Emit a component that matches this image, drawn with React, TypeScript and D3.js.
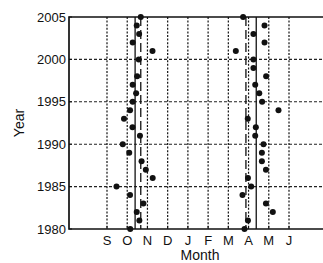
import React, { useRef, useEffect } from "react";
import * as d3 from "d3";

// years of observation
const years = [
  1980, 1981, 1982, 1983, 1984, 1985, 1986, 1987, 1988, 1989, 1990, 1991, 1992,
  1993, 1994, 1995, 1996, 1997, 1998, 1999, 2000, 2001, 2002, 2003, 2004, 2005,
];

// month position (9 = Sep ... 12 = Dec, 13 = Jan ... 18 = Jun)
const autumn = [
  10.15, 10.6, 10.47, 10.8, 10.14, 9.47, 11.26, 10.92, 10.71, 10.1, 9.78, 10.63,
  10.26, 9.84, 10.14, 10.27, 10.44, 10.27, 10.49, null, 10.57, 11.25, 10.27,
  10.59, 10.47, 10.67,
];
const spring = [
  15.8, 15.97, 17.2, 16.86, 15.7, 16.13, 15.97, 16.86, 16.66, 16.66, 16.74,
  16.33, 16.36, 15.96, 17.48, 16.67, 16.53, 16.33, 16.87, 16.24, 16.24, 15.37,
  16.79, 16.24, 16.79, 15.73,
];

// reference lines
const solidLines = [10.39, 16.38];
const dashedLines = [10.67, 15.87];

const monthTicks = [9, 10, 11, 12, 13, 14, 15, 16, 17, 18];
const monthLabels = ["S", "O", "N", "D", "J", "F", "M", "A", "M", "J"];
const yearTicks = [1980, 1985, 1990, 1995, 2000, 2005];

const App = () => {
  const ref = useRef(null);

  useEffect(() => {
    const svg = d3.select(ref.current);
    svg.selectAll("*").remove();

    const left = 69,
      top = 17,
      bottom = 229,
      right = 340;

    const x = d3.scaleLinear().domain([9, 18]).range([107, 289]);
    const y = d3.scaleLinear().domain([1980, 2005]).range([bottom, top]);

    const font = "Arial, 'Liberation Sans', Helvetica, sans-serif";

    // grid
    svg
      .append("g")
      .selectAll("line")
      .data(monthTicks)
      .enter()
      .append("line")
      .attr("x1", (d) => x(d))
      .attr("x2", (d) => x(d))
      .attr("y1", top)
      .attr("y2", bottom)
      .attr("stroke", "#111")
      .attr("stroke-width", 1.2)
      .attr("stroke-dasharray", "2,1.6");

    svg
      .append("g")
      .selectAll("line")
      .data(yearTicks.slice(1, -1))
      .enter()
      .append("line")
      .attr("x1", left)
      .attr("x2", right)
      .attr("y1", (d) => y(d))
      .attr("y2", (d) => y(d))
      .attr("stroke", "#222")
      .attr("stroke-width", 1.1)
      .attr("stroke-dasharray", "3,2");

    // reference lines
    svg
      .append("g")
      .selectAll("line")
      .data(solidLines)
      .enter()
      .append("line")
      .attr("x1", (d) => x(d))
      .attr("x2", (d) => x(d))
      .attr("y1", top)
      .attr("y2", bottom)
      .attr("stroke", "#111")
      .attr("stroke-width", 1.3);

    svg
      .append("g")
      .selectAll("line")
      .data(dashedLines)
      .enter()
      .append("line")
      .attr("x1", (d) => x(d))
      .attr("x2", (d) => x(d))
      .attr("y1", top)
      .attr("y2", bottom)
      .attr("stroke", "#111")
      .attr("stroke-width", 1.3)
      .attr("stroke-dasharray", "9,4");

    // axes frame
    svg
      .append("path")
      .attr("d", `M${right},${top}H${left}V${bottom}H${right}`)
      .attr("fill", "none")
      .attr("stroke", "#111")
      .attr("stroke-width", 1.7);

    // ticks
    svg
      .append("g")
      .selectAll("line")
      .data(monthTicks)
      .enter()
      .append("line")
      .attr("x1", (d) => x(d))
      .attr("x2", (d) => x(d))
      .attr("y1", bottom)
      .attr("y2", bottom - 3)
      .attr("stroke", "#111")
      .attr("stroke-width", 1);

    svg
      .append("g")
      .selectAll("line")
      .data(yearTicks)
      .enter()
      .append("line")
      .attr("x1", left)
      .attr("x2", left + 3)
      .attr("y1", (d) => y(d))
      .attr("y2", (d) => y(d))
      .attr("stroke", "#111")
      .attr("stroke-width", 1);

    // points
    const pts = (vals) =>
      years
        .map((yr, i) => ({ yr, m: vals[i] }))
        .filter((d) => d.m !== null);

    [autumn, spring].forEach((series) => {
      svg
        .append("g")
        .selectAll("circle")
        .data(pts(series))
        .enter()
        .append("circle")
        .attr("cx", (d) => x(d.m))
        .attr("cy", (d) => y(d.yr))
        .attr("r", 3)
        .attr("fill", "#111");
    });

    // tick labels
    svg
      .append("g")
      .selectAll("text")
      .data(monthTicks)
      .enter()
      .append("text")
      .attr("x", (d) => x(d))
      .attr("y", 245)
      .attr("text-anchor", "middle")
      .style("font-family", font)
      .style("font-size", "13px")
      .attr("fill", "#111")
      .text((d, i) => monthLabels[i]);

    svg
      .append("g")
      .selectAll("text")
      .data(yearTicks)
      .enter()
      .append("text")
      .attr("x", left - 3)
      .attr("y", (d) => y(d) + 4.6)
      .attr("text-anchor", "end")
      .style("font-family", font)
      .style("font-size", "13px")
      .attr("fill", "#111")
      .text((d) => d);

    // axis labels
    svg
      .append("text")
      .attr("x", 200)
      .attr("y", 260)
      .attr("text-anchor", "middle")
      .style("font-family", font)
      .style("font-size", "14px")
      .attr("fill", "#111")
      .text("Month");

    svg
      .append("text")
      .attr("transform", "translate(24,123) rotate(-90)")
      .attr("text-anchor", "middle")
      .style("font-family", font)
      .style("font-size", "14px")
      .attr("fill", "#111")
      .text("Year");
  }, []);

  return (
    <div style={{ position: "absolute", left: 0, top: 0 }}>
      <svg ref={ref} width={323} height={263} style={{ display: "block", background: "#fff" }} />
    </div>
  );
};

export default App;
